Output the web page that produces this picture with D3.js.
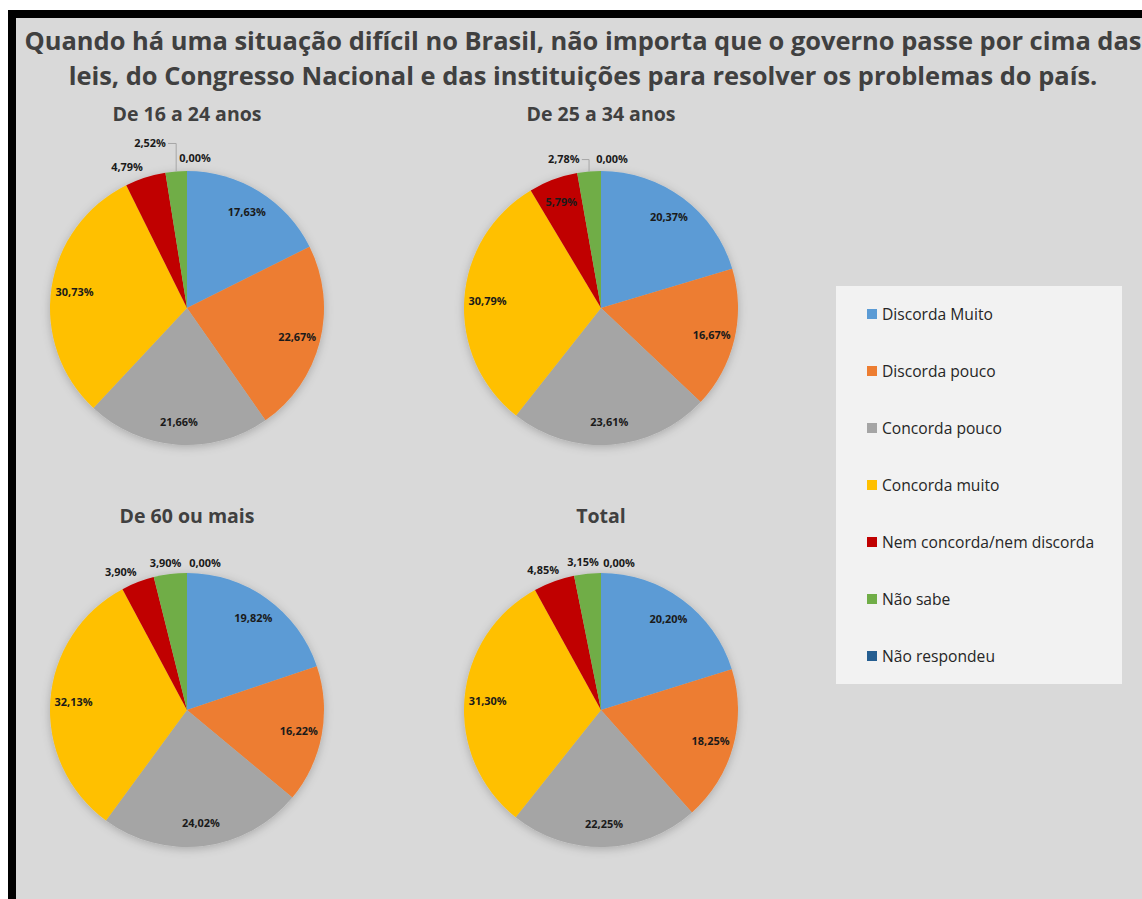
<!DOCTYPE html>
<html>
<head>
<meta charset="utf-8">
<script src="https://cdn.jsdelivr.net/npm/d3@7"></script>
<style>
  html, body { margin: 0; padding: 0; background: #ffffff; }
  svg { display: block; }
</style>
</head>
<body>
<script>
// ---------- DATA ----------
const titleLines = [
  "Quando há uma situação difícil no Brasil, não importa que o governo passe por cima das",
  "leis, do Congresso Nacional e das instituições para resolver os problemas do país."
];
const categories = ["Discorda Muito", "Discorda pouco", "Concorda pouco", "Concorda muito",
  "Nem concorda/nem discorda", "Não sabe", "Não respondeu"];
const groups = ["De 16 a 24 anos", "De 25 a 34 anos", "De 60 ou mais", "Total"];
const values16a24 = [17.63, 22.67, 21.66, 30.73, 4.79, 2.52, 0.00];
const values25a34 = [20.37, 16.67, 23.61, 30.79, 5.79, 2.78, 0.00];
const values60mais = [19.82, 16.22, 24.02, 32.13, 3.90, 3.90, 0.00];
const valuesTotal = [20.20, 18.25, 22.25, 31.30, 4.85, 3.15, 0.00];
const seriesValues = [values16a24, values25a34, values60mais, valuesTotal];

// ---------- STYLE / LAYOUT ----------
const colors = ["#5b9bd5", "#ed7d31", "#a5a5a5", "#ffc000", "#c00000", "#70ad47", "#255e91"];
const W = 1142, H = 899;
const colX = [187, 601], rowY = [308, 710];
const R = 137;
// nudges for labels placed outside the pie: [dx, dy, leaderLine]
const outsideNudge = [
  {4: [-14, 2], 5: [-25, -15, true], 6: [8, 0]},
  {5: [-24, 1, true], 6: [11, 1]},
  {4: [-12, 2], 5: [-3, 2], 6: [18, 3]},
  {4: [-6, 1], 5: [-3, 2], 6: [18, 3]}
];
const FONT = "'Open Sans', 'DejaVu Sans', sans-serif";
const fmt = v => v.toFixed(2).replace(".", ",") + "%";

const svg = d3.select("body").append("svg").attr("width", W).attr("height", H);

const defs = svg.append("defs");
const f = defs.append("filter").attr("id", "shadow")
  .attr("x", "-20%").attr("y", "-20%").attr("width", "140%").attr("height", "140%");
f.append("feDropShadow").attr("dx", 0).attr("dy", 2).attr("stdDeviation", 5)
  .attr("flood-color", "#000").attr("flood-opacity", 0.22);

// frame
svg.append("rect").attr("x", 0).attr("y", 0).attr("width", W).attr("height", H).attr("fill", "#ffffff");
svg.append("rect").attr("x", 8).attr("y", 10).attr("width", W - 8).attr("height", H - 10).attr("fill", "#000");
svg.append("rect").attr("x", 16).attr("y", 18).attr("width", W - 16).attr("height", H - 18).attr("fill", "#d9d9d9");

// title
const tl = svg.append("g").selectAll("text").data(titleLines).join("text")
  .attr("x", 583).attr("y", (d, i) => 50 + i * 35)
  .attr("text-anchor", "middle")
  .attr("font-family", FONT).attr("font-weight", 700)
  .attr("font-size", 25).attr("fill", "#404040")
  .text(d => d);
{
  const w2 = tl.nodes()[1].getComputedTextLength();
  tl.attr("font-size", 25 * 1029 / w2);
}

// measure sizes
function fitSize(str, weight, target, base) {
  const t = svg.append("text").attr("font-family", FONT).attr("font-weight", weight)
    .attr("font-size", base).text(str);
  const w = t.node().getComputedTextLength();
  t.remove();
  return base * target / w;
}
const subtitleSize = fitSize("De 16 a 24 anos", 700, 149, 19);
const labelSize = fitSize("17,63%", 700, 38, 11);
const legendSize = fitSize("Discorda Muito", 400, 111, 15);

const pie = d3.pie().sort(null).value(d => d);
const arc = d3.arc().innerRadius(0).outerRadius(R);
const labelArc = d3.arc().innerRadius(R * 0.83).outerRadius(R * 0.83);

seriesValues.forEach((vals, gi) => {
  const cx = colX[gi % 2], cy = rowY[Math.floor(gi / 2)];
  const g = svg.append("g").attr("transform", `translate(${cx},${cy})`);

  g.append("text")
    .attr("x", 0).attr("y", -R - 50)
    .attr("text-anchor", "middle")
    .attr("font-family", FONT).attr("font-weight", 700)
    .attr("font-size", subtitleSize).attr("fill", "#404040")
    .text(groups[gi]);

  const arcs = pie(vals);
  g.append("g").attr("filter", "url(#shadow)")
    .selectAll("path").data(arcs).join("path")
    .attr("d", arc)
    .attr("fill", (d, i) => colors[i]);

  const lg = g.append("g");
  arcs.forEach((d, i) => {
    let x, y;
    const nudge = outsideNudge[gi][i];
    const mid = (d.startAngle + d.endAngle) / 2;
    if (d.value >= 5) {
      [x, y] = labelArc.centroid(d);
    } else {
      const rr = R + 14;
      x = rr * Math.sin(mid) + (nudge ? nudge[0] : 0);
      y = -rr * Math.cos(mid) + (nudge ? nudge[1] : 0);
    }
    const t = lg.append("text")
      .attr("x", x).attr("y", y)
      .attr("text-anchor", "middle")
      .attr("dominant-baseline", "central")
      .attr("font-family", FONT).attr("font-weight", 700)
      .attr("font-size", labelSize).attr("fill", "#1a1a1a")
      .text(fmt(d.value));
    if (nudge && nudge[2]) {
      const bb = t.node().getBBox();
      const ax = R * Math.sin(mid), ay = -R * Math.cos(mid);
      lg.append("path")
        .attr("d", `M${bb.x + bb.width + 2},${y + 1}H${ax}V${ay}`)
        .attr("fill", "none").attr("stroke", "#a6a6a6").attr("stroke-width", 1);
    }
  });
});

// legend
const leg = svg.append("g");
leg.append("rect").attr("x", 836).attr("y", 286).attr("width", 286).attr("height", 398)
  .attr("fill", "#f2f2f2");
const ly = d3.scalePoint().domain(categories).range([314, 656]);
const items = leg.selectAll("g.item").data(categories).join("g").attr("class", "item")
  .attr("transform", d => `translate(0,${ly(d)})`);
items.append("rect").attr("x", 867).attr("y", -5).attr("width", 10).attr("height", 10)
  .attr("fill", (d, i) => colors[i]);
items.append("text").attr("x", 882).attr("y", 0)
  .attr("dominant-baseline", "central")
  .attr("font-family", FONT).attr("font-size", legendSize).attr("fill", "#262626")
  .text(d => d);
</script>
</body>
</html>
